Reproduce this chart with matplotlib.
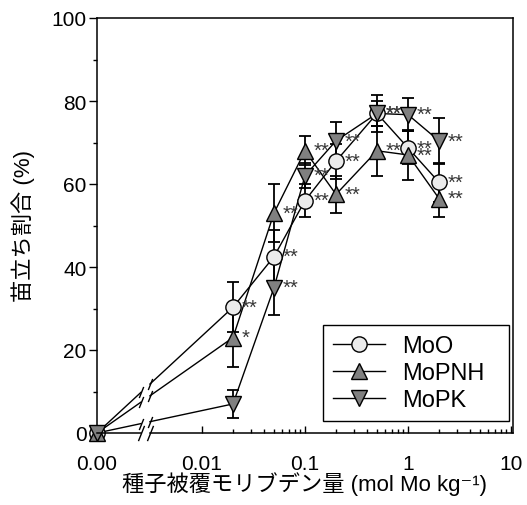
import numpy as np
import matplotlib
matplotlib.use('Agg')
import matplotlib.pyplot as plt
from matplotlib.path import Path
from matplotlib.lines import Line2D
from matplotlib.ticker import FixedLocator, FixedFormatter, NullFormatter

plt.rcParams['font.family'] = ['Liberation Sans', 'Noto Sans CJK JP', 'DejaVu Sans']

# 処理量 (mol Mo kg-1)、先頭は無処理区 (0.00)
dose = [0.02, 0.05, 0.1, 0.2, 0.5, 1, 2]

# 苗立ち割合 (%) と標準誤差、先頭は無処理区
moo = [0, 30.3, 42.5, 56, 65.5, 77, 68.7, 60.4]
moo_err = [0, 6, 6.5, 4, 4.2, 3, 4, 4.7]
mopnh = [0, 23, 53, 68, 57.5, 68, 67, 56.5]
mopnh_err = [0, 7, 7, 3.5, 4.5, 6, 6, 4.4]
mopk = [0, 7, 35, 62, 70.4, 77, 76.7, 70.4]
mopk_err = [0, 3.3, 6.5, 3, 4.5, 4.5, 4, 5.6]

# 有意差の記号
moo_sig = ['', '**', '**', '**', '**', '**', '**', '**']
mopnh_sig = ['', '*', '**', '**', '**', '**', '**', '**']
mopk_sig = ['', '', '**', '**', '**', '**', '**', '**']

xtick_labels = ['0.00', '0.01', '0.1', '1', '10']

# 対数軸の範囲 (log10)、0.00 は左端に置く
log_left, log_right = -3.019, 1.019
brk1, brk2 = -2.592, -2.505   # 軸の省略部分
x0 = 10 ** log_left

# 省略記号 (//) 用のマーカー
slash = Path([(-0.4, -1.0), (0.4, 1.0)], [Path.MOVETO, Path.LINETO])

fig = plt.figure(figsize=(5.27, 5.06), dpi=100)
ax = fig.add_axes([97 / 527, 72 / 506, 416 / 527, 415 / 506])
ax.set_xscale('log')
ax.set_xlim(10 ** log_left, 10 ** log_right)
ax.set_ylim(0, 100)

series = [
    ('MoO', moo, moo_err, moo_sig, 'o', '#ebebeb', 3),
    ('MoPNH', mopnh, mopnh_err, mopnh_sig, '^', '#808080', 4),
    ('MoPK', mopk, mopk_err, mopk_sig, 'v', '#808080', 5),
]

xs = [x0] + dose
handles = []
for name, vals, err, sig, mk, fc, z in series:
    # 無処理区から最初の処理区までの線 (途中を省略)
    lx0, lx1 = np.log10(x0), np.log10(dose[0])
    yb1 = vals[0] + (vals[1] - vals[0]) * (brk1 - lx0) / (lx1 - lx0)
    yb2 = vals[0] + (vals[1] - vals[0]) * (brk2 - lx0) / (lx1 - lx0)
    ax.plot([x0, 10 ** brk1], [vals[0], yb1], color='k', lw=1.0, zorder=2, clip_on=False)
    ax.plot([10 ** brk2] + dose, [yb2] + vals[1:], color='k', lw=1.0, zorder=2)
    ax.plot([10 ** brk1, 10 ** brk2], [yb1, yb2], ls='none', marker=slash, ms=8,
            mfc='none', mec='k', mew=1.0, zorder=2)

    ax.errorbar(dose, vals[1:], yerr=err[1:], fmt='none', ecolor='k',
                elinewidth=1.3, capsize=4, capthick=1.3, zorder=2.5)
    ax.plot(xs, vals, ls='none', marker=mk, ms=11, mfc=fc, mec='k', mew=1.0,
            zorder=z, clip_on=False)

    for x, v, s in zip(xs, vals, sig):
        if s:
            ax.annotate(s, (x, v), xytext=(6, 0), textcoords='offset points',
                        ha='left', va='center', fontsize=14.5, color='#383838',
                        zorder=6)

    handles.append(Line2D([], [], color='k', lw=1.0, marker=mk, ms=11,
                          mfc=fc, mec='k', mew=1.0, label=name))

# x 軸 (省略部分つき)
ax.spines['bottom'].set_visible(False)
xt = ax.get_xaxis_transform()
ax.plot([x0, 10 ** brk1], [0, 0], color='k', lw=1.1, transform=xt, clip_on=False, zorder=7)
ax.plot([10 ** brk2, 10 ** log_right], [0, 0], color='k', lw=1.1, transform=xt,
        clip_on=False, zorder=7)
ax.plot([10 ** brk1, 10 ** brk2], [0, 0], ls='none', marker=slash, ms=11, mfc='none',
        mec='k', mew=1.0, transform=xt, clip_on=False, zorder=7)
for side in ['left', 'right', 'top']:
    ax.spines[side].set_linewidth(1.1)

major_x = [x0, 0.01, 0.1, 1, 10]
minor_x = [k * 10.0 ** d for d in (-2, -1, 0) for k in range(2, 10)]
ax.xaxis.set_major_locator(FixedLocator(major_x))
ax.xaxis.set_major_formatter(FixedFormatter(xtick_labels))
ax.xaxis.set_minor_locator(FixedLocator(minor_x))
ax.xaxis.set_minor_formatter(NullFormatter())
ax.tick_params(axis='x', which='major', direction='in', length=5, width=1, labelsize=15, pad=15)
ax.tick_params(axis='x', which='minor', direction='in', length=3, width=1)

ax.set_yticks(np.arange(0, 101, 20))
ax.set_yticks(np.arange(10, 100, 20), minor=True)
ax.tick_params(axis='y', which='major', direction='out', length=6, width=1, labelsize=15, pad=1.5)
ax.tick_params(axis='y', which='minor', direction='out', length=3, width=1)

ax.set_xlabel('種子被覆モリブデン量 (mol Mo kg⁻¹)', fontsize=16)
ax.set_ylabel('苗立ち割合 (%)', fontsize=16)
ax.xaxis.set_label_coords(0.5, -0.092)
ax.yaxis.set_label_coords(-0.15, 0.5)

leg = ax.legend(handles=handles, loc='lower left', bbox_to_anchor=(0.543, 0.029, 0.447, 0.2),
                mode='expand', borderaxespad=0, fontsize=17, handlelength=2.2,
                handletextpad=0.72, labelspacing=0.21, borderpad=0.42, fancybox=False,
                framealpha=1, edgecolor='k')
leg.get_frame().set_linewidth(1.0)
leg.set_zorder(8)

fig.savefig('out.png', dpi=100)
